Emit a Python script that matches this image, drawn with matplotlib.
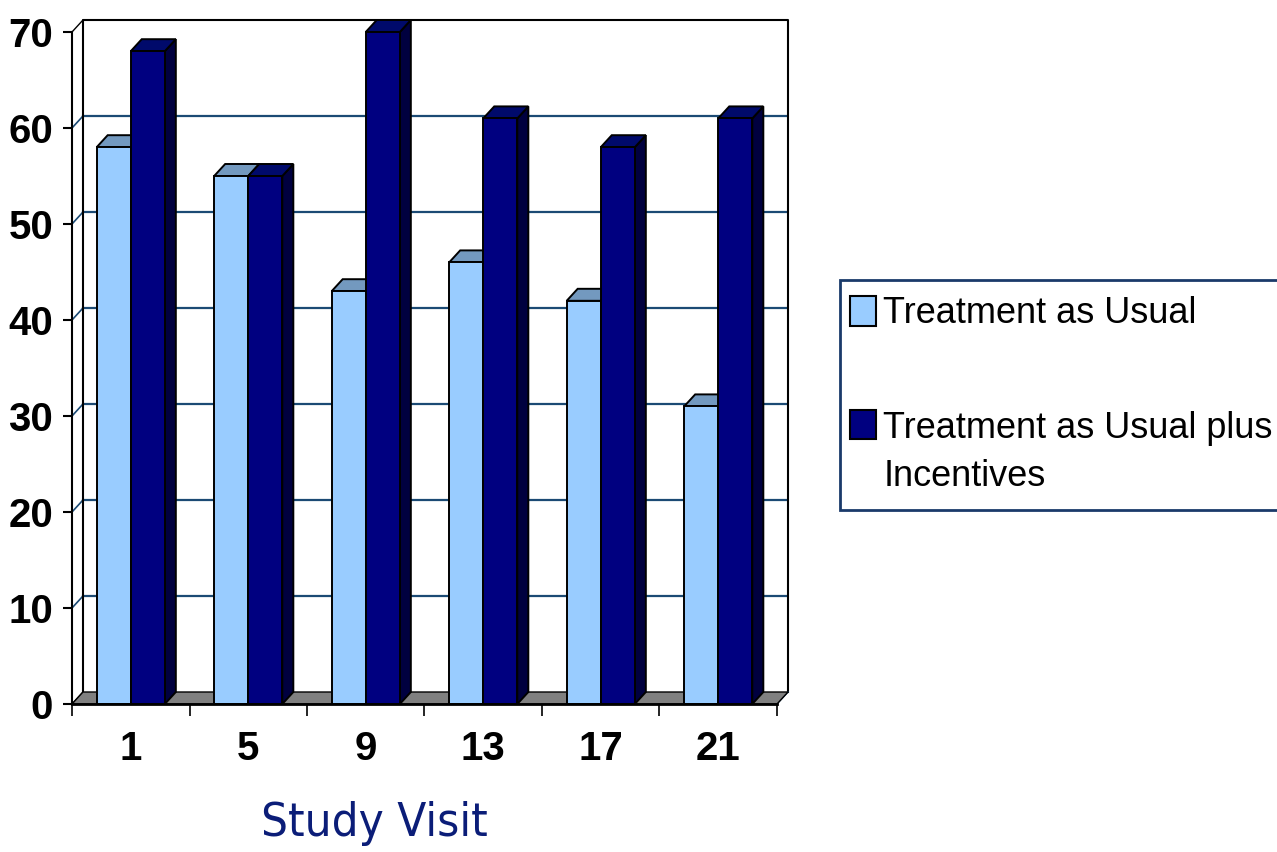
import matplotlib.pyplot as plt
from matplotlib.patches import Polygon, Rectangle, Patch
from matplotlib.legend_handler import HandlerPatch

# data
visits = ['1', '5', '9', '13', '17', '21']
tau = [58, 55, 43, 46, 42, 31]
tau_plus = [68, 55, 70, 61, 58, 61]
series_names = ['Treatment as Usual', 'Treatment as Usual plus\nIncentives']
y_ticks = [0, 10, 20, 30, 40, 50, 60, 70]

light = ('#99CCFF', '#7399BF', '#5F88B0')
dark = ('#000080', '#000A6B', '#00003F')
grid_col = '#1B4A74'
sans = ['Liberation Sans', 'DejaVu Sans']

W, H = 1277, 852
fig = plt.figure(figsize=(W / 100, H / 100), dpi=100)
ax = fig.add_axes([72 / W, (H - 704) / H, 716 / W, 684 / H])

n = len(visits)
ymax = 70
dx = 11 / 117.5   # depth offset in data units
dy = 12 / 9.6
bw = 0.29
ax.set_xlim(-0.5, n - 0.5 + dx)
ax.set_ylim(0, ymax + dy)

x0, x1 = -0.5, n - 0.5

# floor
ax.add_patch(Polygon([(x0, 0), (x1, 0), (x1 + dx, dy), (x0 + dx, dy)],
                     fc='#808080', ec='black', lw=1.0, zorder=1, clip_on=False))

# back wall gridlines and left wall diagonals
for v in y_ticks[1:-1]:
    ax.plot([x0 + dx, x1 + dx], [v + dy, v + dy], color=grid_col, lw=1.6, zorder=0.5)
    ax.plot([x0, x0 + dx], [v, v + dy], color=grid_col, lw=1.2, zorder=0.5)

# wall outlines
ax.plot([x0 + dx, x0 + dx, x1 + dx, x1 + dx], [dy, ymax + dy, ymax + dy, dy],
        color='black', lw=1.5, zorder=0.6, clip_on=False)
ax.plot([x0, x0 + dx], [ymax, ymax + dy], color='black', lw=1.0, zorder=0.6, clip_on=False)
ax.plot([x0, x0 + dx], [0, dy], color='black', lw=1.0, zorder=0.6, clip_on=False)
ax.plot([x1, x1 + dx], [0, dy], color=grid_col, lw=1.0, zorder=0.6, clip_on=False)


def bar3d(left, h, cols, z):
    front, top, side = cols
    kw = dict(ec='black', lw=1.4, zorder=z, clip_on=False, joinstyle='miter')
    ax.add_patch(Polygon([(left + bw, 0), (left + bw + dx, dy), (left + bw + dx, h + dy),
                          (left + bw, h)], fc=side, **kw))
    ax.add_patch(Polygon([(left, h), (left + bw, h), (left + bw + dx, h + dy),
                          (left + dx, h + dy)], fc=top, **kw))
    ax.add_patch(Rectangle((left, 0), bw, h, fc=front, **kw))


for i in range(n):
    bar3d(i - bw, tau[i], light, 2 + i * 2)
    bar3d(i, tau_plus[i], dark, 3 + i * 2)

# axes, ticks and labels
for s in ['top', 'right']:
    ax.spines[s].set_visible(False)
ax.spines['left'].set_bounds(0, ymax)
ax.spines['bottom'].set_bounds(x0, x1)
ax.spines['left'].set_linewidth(1.5)
ax.spines['bottom'].set_linewidth(2.0)
ax.spines['left'].set_zorder(20)
ax.spines['bottom'].set_zorder(20)

ax.set_yticks(y_ticks)
ax.set_yticklabels([str(v) for v in y_ticks])
ax.set_xticks(range(n))
ax.set_xticklabels(visits)
ax.set_xticks([i - 0.5 for i in range(n + 1)], minor=True)
ax.tick_params(axis='y', length=6.5, width=1.5, pad=7)
ax.tick_params(axis='x', which='major', length=0, pad=19)
ax.tick_params(axis='x', which='minor', length=8.5, width=1.2)
for lab in ax.get_xticklabels() + ax.get_yticklabels():
    lab.set_fontfamily(sans)
    lab.set_fontweight('bold')
    lab.set_fontsize(29)

ax.set_xlabel('Study Visit', fontsize=34, color='#0B1D78',
              fontfamily='DejaVu Sans', fontstretch='condensed')
ax.xaxis.set_label_coords((374 - 72) / 716, -0.142)

# legend: frame drawn by hand so it runs off the right edge like the original
fig.add_artist(Rectangle((840 / W, 1 - 510 / H), 460 / W, 230 / H,
                         transform=fig.transFigure, fc='white', ec='#1A3A6A',
                         lw=2, clip_on=False))


def raised_box(legend, orig_handle, xdescent, ydescent, width, height, fontsize):
    return Rectangle((-xdescent, -ydescent + 0.8 * fontsize), width, height)


handles = [Patch(fc=light[0], ec='black', lw=1.5),
           Patch(fc=dark[0], ec='black', lw=1.5)]
leg = fig.legend(handles, series_names, loc='upper left',
                 bbox_to_anchor=(850 / W, 1 - 296 / H), bbox_transform=fig.transFigure,
                 frameon=False, prop={'family': sans, 'size': 26},
                 handlelength=0.72, handleheight=0.88, handletextpad=0.2,
                 borderpad=0, labelspacing=2.2, borderaxespad=0,
                 handler_map={handles[1]: HandlerPatch(patch_func=raised_box)})
leg.get_texts()[1].set_linespacing(1.5)

fig.savefig('out.png', dpi=100)
